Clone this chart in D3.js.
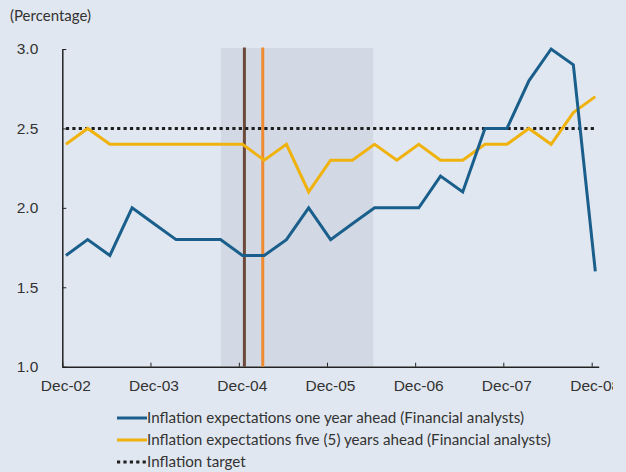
<!DOCTYPE html>
<html>
<head>
<meta charset="utf-8">
<script src="https://cdn.jsdelivr.net/npm/d3@7.9.0/dist/d3.min.js"></script>
<style>
  html, body { margin: 0; padding: 0; background: #e1e7f0; }
  svg { display: block; font-family: Lato, "Open Sans", sans-serif; }
  .axis path, .axis line { stroke: #222; }
  .axis text { fill: #333; font-size: 15.5px; }
</style>
</head>
<body>
<svg id="chart" width="626" height="472"></svg>
<script>
// quarterly survey dates, Dec-02 .. Dec-08
const months = [
  "2002-12", "2003-03", "2003-06", "2003-09", "2003-12",
  "2004-03", "2004-06", "2004-09", "2004-12",
  "2005-03", "2005-06", "2005-09", "2005-12",
  "2006-03", "2006-06", "2006-09", "2006-12",
  "2007-03", "2007-06", "2007-09", "2007-12",
  "2008-03", "2008-06", "2008-09", "2008-12"
];
const oneYear = [
  1.7, 1.8, 1.7, 2.0, 1.9, 1.8, 1.8, 1.8, 1.7,
  1.7, 1.8, 2.0, 1.8, 1.9, 2.0, 2.0, 2.0,
  2.2, 2.1, 2.5, 2.5, 2.8, 3.0, 2.9, 1.6
];
const fiveYears = [
  2.4, 2.5, 2.4, 2.4, 2.4, 2.4, 2.4, 2.4, 2.4,
  2.3, 2.4, 2.1, 2.3, 2.3, 2.4, 2.3, 2.4,
  2.3, 2.3, 2.4, 2.4, 2.5, 2.4, 2.6, 2.7
];
const target = months.map(() => 2.5);

const xTickLabels = ["Dec-02", "Dec-03", "Dec-04", "Dec-05", "Dec-06", "Dec-07", "Dec-08"];
const yTicks = [1.0, 1.5, 2.0, 2.5, 3.0];

// shaded period and two event markers
const shadePeriod = ["2004-09-18", "2006-06-10"];
const markerDates = ["2004-12-24", "2005-03-10"];

const legendLabels = [
  "Inflation expectations one year ahead (Financial analysts)",
  "Inflation expectations five (5) years ahead (Financial analysts)",
  "Inflation target"
];

const parseMonth = d3.timeParse("%Y-%m");
const parseDay = d3.timeParse("%Y-%m-%d");
const parseTick = d3.timeParse("%b-%y");

const svg = d3.select("#chart");
const plotLeft = 62.3, plotRight = 591.7, plotTop = 49, plotBottom = 366.7;

// the original image is cut off on the right
svg.append("clipPath").attr("id", "crop")
  .append("rect").attr("width", 613).attr("height", 472);
const root = svg.append("g").attr("clip-path", "url(#crop)");

const x = d3.scaleTime()
  .domain([parseTick(xTickLabels[0]), parseTick(xTickLabels[xTickLabels.length - 1])])
  .range([plotLeft, plotRight]);
const y = d3.scaleLinear().domain([1, 3]).range([plotBottom, plotTop]);

// points sit mid-month
const xOf = (m) => x(d3.timeDay.offset(parseMonth(m), 15));

// background shade
root.append("rect")
  .attr("x", x(parseDay(shadePeriod[0])))
  .attr("y", y(3) - 1)
  .attr("width", x(parseDay(shadePeriod[1])) - x(parseDay(shadePeriod[0])))
  .attr("height", y(1) - y(3) + 1)
  .attr("fill", "#d3d9e4");

// axes
root.append("g")
  .attr("class", "axis")
  .attr("transform", `translate(0,${plotBottom})`)
  .call(d3.axisBottom(x)
    .tickValues(xTickLabels.map(parseTick))
    .tickFormat(d3.timeFormat("%b-%y"))
    .tickSizeInner(-4)
    .tickSizeOuter(0)
    .tickPadding(10))
  .call((g) => g.select(".domain").attr("d", `M${plotLeft},0.5H${plotRight + 7.5}`).attr("stroke-width", 1.5))
  .call((g) => g.selectAll(".tick line").attr("stroke", "#444"))
  .call((g) => g.selectAll(".tick text").attr("dx", 3).attr("dy", "0.95em"));

root.append("g")
  .attr("class", "axis")
  .attr("transform", `translate(${plotLeft},0)`)
  .call(d3.axisLeft(y)
    .tickValues(yTicks)
    .tickFormat(d3.format(".1f"))
    .tickSizeInner(-4)
    .tickSizeOuter(0)
    .tickPadding(24))
  .call((g) => g.select(".domain").attr("stroke-width", 1.5));

root.append("text")
  .attr("x", 10)
  .attr("y", 21)
  .attr("fill", "#333")
  .attr("font-size", 15)
  .text("(Percentage)");

// event markers
const markerColors = ["#6b4a3c", "#ee8a32"];
root.selectAll(".marker")
  .data(markerDates)
  .join("line")
  .attr("class", "marker")
  .attr("x1", (d) => x(parseDay(d)))
  .attr("x2", (d) => x(parseDay(d)))
  .attr("y1", y(3) - 1.5)
  .attr("y2", plotBottom)
  .attr("stroke", (d, i) => markerColors[i])
  .attr("stroke-width", 3);

const line = d3.line()
  .x((d) => xOf(d[0]))
  .y((d) => y(d[1]));

const series = [
  { values: target, color: "#1e1e1e", dash: "3.2,3.2", width: 3 },
  { values: fiveYears, color: "#efb20f", dash: null, width: 3 },
  { values: oneYear, color: "#1a5f8b", dash: null, width: 3 }
];

series.forEach((s) => {
  root.append("path")
    .datum(months.map((m, i) => [m, s.values[i]]))
    .attr("d", line)
    .attr("fill", "none")
    .attr("stroke", s.color)
    .attr("stroke-width", s.width)
    .attr("stroke-dasharray", s.dash)
    .attr("stroke-linejoin", "miter");
});

// legend
const legendSeries = [series[2], series[1], series[0]];
const legend = root.append("g").attr("transform", "translate(117,418)");
legendLabels.forEach((label, i) => {
  const row = legend.append("g").attr("transform", `translate(0,${i * 22})`);
  row.append("line")
    .attr("x1", 0).attr("x2", 30)
    .attr("stroke", legendSeries[i].color)
    .attr("stroke-width", 3)
    .attr("stroke-dasharray", legendSeries[i].dash);
  row.append("text")
    .attr("x", 30)
    .attr("dy", "0.35em")
    .attr("fill", "#333")
    .attr("font-size", 15.2)
    .text(label);
});
</script>
</body>
</html>
